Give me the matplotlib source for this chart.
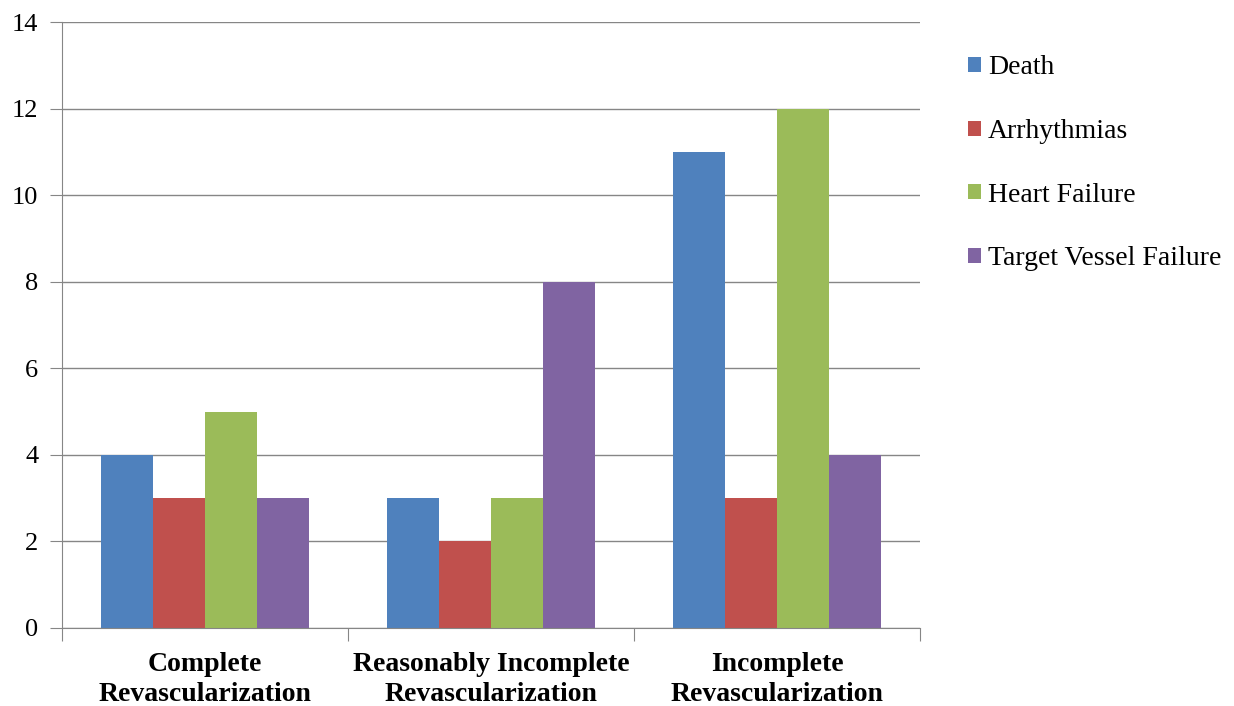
import numpy as np
import matplotlib.pyplot as plt

categories = ["Complete\nRevascularization",
              "Reasonably Incomplete\nRevascularization",
              "Incomplete\nRevascularization"]
series = ["Death", "Arrhythmias", "Heart Failure", "Target Vessel Failure"]
death = [4, 3, 11]
arrhythmias = [3, 2, 3]
heart_failure = [5, 3, 12]
vessel_failure = [3, 8, 4]
colors = ["#4F81BD", "#C0504D", "#9BBB59", "#8064A2"]

plt.rcParams['font.family'] = ['Liberation Serif', 'DejaVu Serif']

fig = plt.figure(figsize=(12.34, 7.06), dpi=100)
ax = fig.add_axes([0.0502, 0.1105, 0.6953, 0.8583])

x = np.arange(len(categories))
w = 1 / 5.5
values = [death, arrhythmias, heart_failure, vessel_failure]
for i, (name, vals) in enumerate(zip(series, values)):
    ax.bar(x + (i - 1.5) * w, vals, w, color=colors[i], label=name, zorder=2)

ax.set_xlim(-0.5, 2.5)
ax.set_ylim(0, 14)
ax.set_yticks(np.arange(0, 15, 2))
ax.yaxis.grid(True, color="#868686", linewidth=1, zorder=0)
ax.tick_params(axis='y', labelsize=19, length=9, color="#868686", pad=8)

# boundaries get the tick marks, category names sit in between
ax.set_xticks([-0.5, 0.5, 1.5, 2.5])
ax.set_xticklabels([])
ax.tick_params(axis='x', which='major', length=9, color="#868686")
ax.set_xticks(x, minor=True)
ax.set_xticklabels(categories, minor=True, fontsize=20, fontweight='bold',
                   linespacing=1.27)
ax.tick_params(axis='x', which='minor', length=0, pad=17)

for s in ['top', 'right']:
    ax.spines[s].set_visible(False)
for s in ['left', 'bottom']:
    ax.spines[s].set_color("#868686")

fig.legend(loc='upper left', bbox_to_anchor=(0.7645, 0.957), frameon=False,
           fontsize=20, handlelength=0.45, handleheight=0.45,
           handletextpad=0.25, labelspacing=1.39)

fig.savefig("out.png", dpi=100)
